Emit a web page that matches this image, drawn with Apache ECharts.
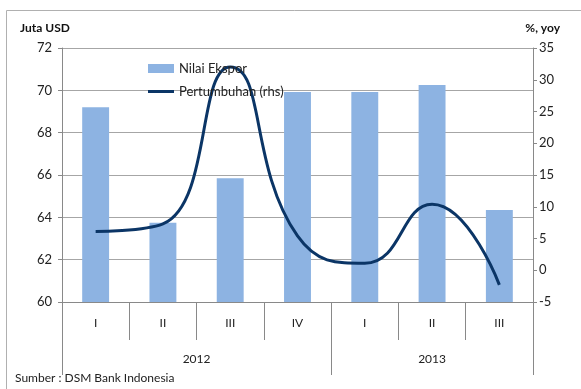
<!DOCTYPE html>
<html>
<head>
<meta charset="utf-8">
<script src="https://cdn.jsdelivr.net/npm/echarts@6/dist/echarts.min.js"></script>
<style>
    html, body { margin: 0; padding: 0; background: #fff; }
    #chart { width: 581px; height: 389px; }
</style>
</head>
<body>
<div id="chart"></div>
<script>
var quarters = ['I', 'II', 'III', 'IV', 'I', 'II', 'III'];
var years = ['2012', '2013'];
var yearSpans = [4, 3];
var ekspor = [69.2, 63.75, 65.85, 69.92, 69.92, 70.25, 64.35];
var pertumbuhan = [6.1, 7.3, 32.0, 5.4, 1.1, 10.4, -2.3];
var leftTicks = [60, 72, 2];
var rightTicks = [-5, 35, 5];

var fontName = 'Lato';
var axisGrey = '#898989';

// year boundaries and label centers on a 0..n scale
var yearBounds = [0];
var yearCenters = [];
yearSpans.forEach(function (s) {
    var start = yearBounds[yearBounds.length - 1];
    yearCenters.push(start + s / 2);
    yearBounds.push(start + s);
});

var chart = echarts.init(document.getElementById('chart'));

var option = {
    animation: false,
    textStyle: {fontFamily: fontName},
    grid: {left: 62, right: 48, top: 48, bottom: 87, containLabel: false},
    legend: {
        orient: 'vertical',
        left: 143,
        top: 57,
        itemWidth: 26,
        itemHeight: 9,
        itemGap: 10,
        textStyle: {fontFamily: fontName, fontSize: 13, color: '#222'},
        data: [
            {name: 'Nilai Ekspor', icon: 'rect'},
            // thin bar with a tiny speck on top so the path keeps its height
            {name: 'Pertumbuhan (rhs)', icon: 'path://M0,0 L0.01,0 L0.01,0.01 Z M0,3 L26,3 L26,6 L0,6 Z M0,9 L0.01,9 L0.01,8.99 Z'}
        ]
    },
    xAxis: [
        {
            type: 'category',
            data: quarters,
            position: 'bottom',
            axisLine: {show: true, onZero: false, lineStyle: {color: axisGrey, width: 1}},
            axisTick: {show: true, interval: 0, length: 38, lineStyle: {color: axisGrey}},
            axisLabel: {interval: 0, margin: 15, fontSize: 12, color: '#222', fontFamily: fontName}
        },
        {
            type: 'value',
            min: 0,
            max: quarters.length,
            position: 'bottom',
            splitLine: {show: false},
            axisLine: {show: false, onZero: false},
            axisTick: {show: true, customValues: yearBounds, length: 73, lineStyle: {color: axisGrey}},
            axisLabel: {
                customValues: yearCenters,
                margin: 51,
                fontSize: 12,
                color: '#222',
                fontFamily: fontName,
                formatter: function (v) {
                    return years[yearCenters.indexOf(v)];
                }
            }
        }
    ],
    yAxis: [
        {
            type: 'value',
            min: leftTicks[0],
            max: leftTicks[1],
            interval: leftTicks[2],
            position: 'left',
            axisLine: {show: true, onZero: false, lineStyle: {color: axisGrey}},
            axisTick: {show: true, length: 4, lineStyle: {color: axisGrey}},
            axisLabel: {margin: 10, fontSize: 13, color: '#222', fontFamily: fontName},
            splitLine: {show: true, lineStyle: {color: '#a6a6a6', width: 1}}
        },
        {
            type: 'value',
            min: rightTicks[0],
            max: rightTicks[1],
            interval: rightTicks[2],
            position: 'right',
            axisLine: {show: true, onZero: false, lineStyle: {color: axisGrey}},
            axisTick: {show: true, length: 4, lineStyle: {color: axisGrey}},
            axisLabel: {margin: 6, fontSize: 13, color: '#222', fontFamily: fontName},
            splitLine: {show: false}
        }
    ],
    series: [
        {
            name: 'Nilai Ekspor',
            type: 'bar',
            xAxisIndex: 0,
            yAxisIndex: 0,
            barWidth: '40%',
            itemStyle: {color: '#8db3e2'},
            data: ekspor
        },
        {
            name: 'Pertumbuhan (rhs)',
            type: 'line',
            xAxisIndex: 0,
            yAxisIndex: 1,
            smooth: 0.5,
            symbol: 'none',
            lineStyle: {color: '#0b3566', width: 3},
            itemStyle: {color: '#0b3566'},
            data: pertumbuhan
        }
    ],
    graphic: [
        {
            type: 'rect',
            shape: {x: 6.5, y: 10.5, width: 600, height: 400},
            style: {fill: 'none', stroke: '#b0b0b0', lineWidth: 1},
            silent: true
        },
        {
            type: 'text',
            left: 20,
            top: 22,
            style: {text: 'Juta USD', font: 'bold 12px ' + fontName, fill: '#111'}
        },
        {
            type: 'text',
            right: 21,
            top: 22,
            style: {text: '%, yoy', font: 'bold 12px ' + fontName, fill: '#111'}
        },
        {
            type: 'text',
            left: 15,
            top: 372,
            style: {text: 'Sumber : DSM Bank Indonesia', font: '12px ' + fontName, fill: '#222'}
        }
    ]
};

chart.setOption(option);
</script>
</body>
</html>
